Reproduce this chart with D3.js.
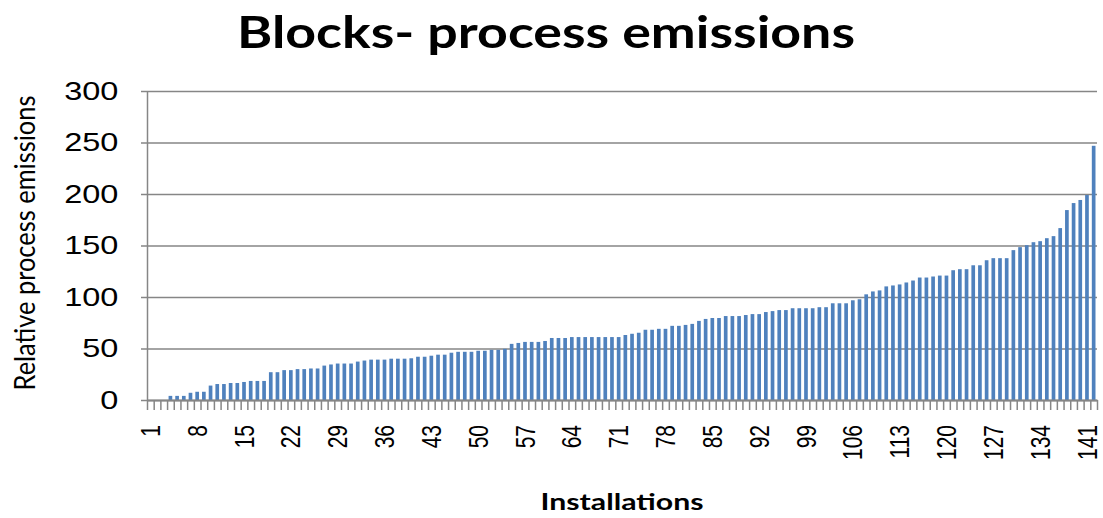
<!DOCTYPE html>
<html>
<head>
<meta charset="utf-8">
<script src="https://cdn.jsdelivr.net/npm/d3@7"></script>
<style>
    body { margin: 0; background: #fff; }
    svg { display: block; }
</style>
</head>
<body>
<div id="chart"></div>
<script>
// values, one per installation (sorted)
var emissions = [
    0, 0, 0, 4, 4, 4, 7, 8, 8, 14, 15.5, 15.5, 16.5, 16.5, 17.5, 18.5, 18.5, 18.5, 27, 27, 29, 29, 30, 30,
    30.6, 30.6, 33.4, 34.5, 35.4, 35.4, 35.4, 37.3, 38.3, 39.2, 39.2, 39.2, 40.1, 40.1, 40.1, 40.5, 42, 42, 43, 44, 44, 45.9, 46.8, 46.8,
    46.8, 47.8, 47.8, 48.7, 48.7, 49.7, 54.5, 55.4, 56.4, 56.4, 56.4, 57.3, 60.2, 60.2, 60.2, 61.1, 61.1, 61.1, 61.1, 61.1, 61.1, 61.1, 61.1, 63.1,
    64.3, 65.3, 68.2, 68.2, 69.1, 69.1, 72, 72, 72.9, 73.9, 76.8, 78.7, 79.6, 79.6, 81.5, 81.5, 81.5, 82.5, 83.4, 83.4, 85.4, 86.3, 87.3, 87.3,
    89.1, 89.1, 89.1, 89.1, 90.1, 90.1, 93.9, 93.9, 93.9, 96.8, 97.8, 102.6, 105.4, 106.4, 110.3, 111.2, 112.2, 114.1, 116, 118.9, 118.9, 119.9, 120.8, 120.8,
    126, 127, 127, 130.8, 130.8, 135.7, 137.7, 137.7, 137.7, 145.5, 148.4, 150.3, 153.2, 154.2, 157.1, 159.1, 166.9, 184.4, 191.2, 194.2, 199, 246.8
];
var installations = d3.range(1, emissions.length + 1);
var xLabels = [1, 8, 15, 22, 29, 36, 43, 50, 57, 64, 71, 78, 85, 92, 99, 106, 113, 120, 127, 134, 141];
var yTicks = [0, 50, 100, 150, 200, 250, 300];

(function() {
    "use strict";

    var width = 1103,
        height = 518,
        left = 147, right = 1097, top = 91, bottom = 400,
        grey = "#868686",

        svg = d3.select("#chart")
            .append("svg")
            .attr("width", width)
            .attr("height", height),

        x = d3.scaleBand()
            .domain(installations)
            .range([left, right])
            .paddingInner(0.45)
            .paddingOuter(0.225),

        // category edges, for the tick marks between bars
        xEdge = d3.scaleLinear()
            .domain([0, installations.length])
            .range([left, right]),

        y = d3.scaleLinear()
            .domain([0, 300])
            .range([bottom, top]);

    // gridlines + y labels
    var yAxis = svg.append("g")
        .attr("transform", "translate(" + left + ",0)")
        .call(d3.axisLeft(y)
            .tickValues(yTicks)
            .tickSizeInner(-(right - left))
            .tickSizeOuter(0)
            .tickPadding(22));
    yAxis.select(".domain").attr("stroke", grey).attr("stroke-width", 1.5);
    yAxis.selectAll(".tick line")
        .attr("x1", -6)
        .attr("stroke", grey)
        .attr("stroke-width", 1.5);
    yAxis.selectAll(".tick text")
        .attr("fill", "#000")
        .style("font-family", "Liberation Sans")
        .style("font-size", "25px")
        .attr("transform", "scale(1.3,1)");

    // bars
    svg.append("g")
        .selectAll("rect")
        .data(emissions)
        .join("rect")
        .attr("x", function(d, i) { return x(installations[i]); })
        .attr("y", function(d) { return y(d); })
        .attr("width", x.bandwidth())
        .attr("height", function(d) { return y(0) - y(d); })
        .attr("fill", "#4F81BD");

    // x axis line and tick marks between categories
    var xTicks = svg.append("g")
        .attr("transform", "translate(0," + bottom + ")")
        .call(d3.axisBottom(xEdge)
            .tickValues(d3.range(0, installations.length + 1))
            .tickFormat("")
            .tickSizeInner(10)
            .tickSizeOuter(0));
    xTicks.select(".domain").attr("stroke", grey).attr("stroke-width", 2);
    xTicks.selectAll(".tick line").attr("stroke", grey).attr("stroke-width", 1.5);

    // rotated category labels
    var xAxis = svg.append("g")
        .attr("transform", "translate(0," + bottom + ")")
        .call(d3.axisBottom(x)
            .tickValues(xLabels)
            .tickSize(0)
            .tickPadding(0));
    xAxis.select(".domain").remove();
    xAxis.selectAll(".tick text")
        .attr("fill", "#000")
        .attr("y", 0)
        .style("font-family", "Liberation Sans")
        .style("font-size", "21px")
        .attr("text-anchor", "end")
        .attr("dy", "0.35em")
        .attr("transform", "translate(0,25) rotate(-90) scale(1,1.3)");

    svg.append("text")
        .attr("x", 546)
        .attr("y", 48)
        .attr("text-anchor", "middle")
        .attr("textLength", 618)
        .attr("lengthAdjust", "spacingAndGlyphs")
        .style("font-family", "Lato")
        .style("font-weight", "bold")
        .style("font-size", "44px")
        .text("Blocks- process emissions");

    svg.append("text")
        .attr("x", 622)
        .attr("y", 510)
        .attr("text-anchor", "middle")
        .attr("textLength", 163)
        .attr("lengthAdjust", "spacingAndGlyphs")
        .style("font-family", "Lato")
        .style("font-weight", "bold")
        .style("font-size", "22px")
        .text("Installations");

    svg.append("text")
        .attr("transform", "translate(35,243) rotate(-90) scale(1,1.2)")
        .attr("text-anchor", "middle")
        .attr("textLength", 295)
        .attr("lengthAdjust", "spacingAndGlyphs")
        .style("font-family", "Lato")
        .style("font-size", "24px")
        .text("Relative process emissions");
})();
</script>
</body>
</html>
